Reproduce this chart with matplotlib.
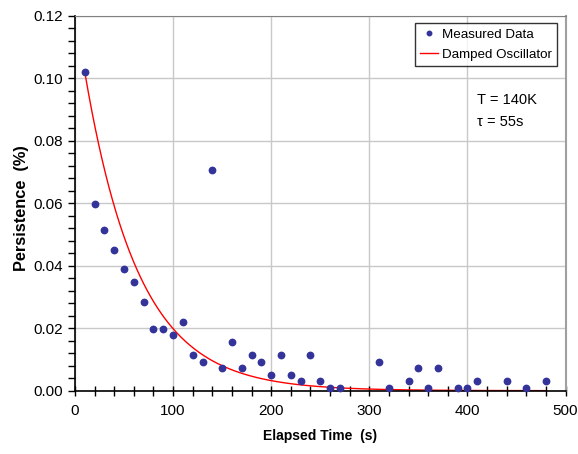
import numpy as np
import matplotlib
matplotlib.use("Agg")
import matplotlib.pyplot as plt
from matplotlib.ticker import MultipleLocator, FormatStrFormatter

plt.rcParams['font.family'] = ['Liberation Sans', 'DejaVu Sans']

# Measured data
time_s = [10, 20, 30, 40, 50, 60, 70, 80, 90, 100, 110, 120, 130, 140, 150,
          160, 170, 180, 190, 200, 210, 220, 230, 240, 250, 260, 270, 310,
          320, 340, 350, 360, 370, 390, 400, 410, 440, 460, 480]
persistence = [0.1022, 0.0599, 0.0515, 0.0451, 0.0389, 0.0347, 0.0283, 0.0199,
               0.0199, 0.0177, 0.0220, 0.0114, 0.0093, 0.0706, 0.0072,
               0.0156, 0.0072, 0.0114, 0.0093, 0.0050, 0.0114, 0.0050, 0.0030,
               0.0114, 0.0030, 0.0009, 0.0009, 0.0093,
               0.0009, 0.0030, 0.0072, 0.0009, 0.0072, 0.0009, 0.0009, 0.0030,
               0.0030, 0.0009, 0.0030]

# Model: damped decay, tau = 55 s
tau = 55.0
amp = 0.102
t_start, t_end = 10, 480

fig = plt.figure(figsize=(5.78, 4.54), dpi=100)
W, H = 578, 454
left, right, top, bottom = 75, 565.5, 16, 390.7
ax = fig.add_axes([left / W, 1 - bottom / H, (right - left) / W, (bottom - top) / H])

t_model = np.linspace(t_start, t_end, 400)
y_model = amp * np.exp(-(t_model - t_start) / tau)

ax.plot(time_s, persistence, 'o', color='#333399', markersize=4.6,
        label='Measured Data', zorder=3, clip_on=False)
ax.plot(t_model, y_model, '-', color='#ff0000', linewidth=1.0,
        label='Damped Oscillator', zorder=2)

ax.set_xlim(0, 500)
ax.set_ylim(0, 0.12)
ax.xaxis.set_major_locator(MultipleLocator(100))
ax.xaxis.set_minor_locator(MultipleLocator(20))
ax.yaxis.set_major_locator(MultipleLocator(0.02))
ax.yaxis.set_minor_locator(MultipleLocator(0.004))
ax.yaxis.set_major_formatter(FormatStrFormatter('%.2f'))

ax.grid(True, which='major', color='#c8c8c8', linewidth=1.0)
ax.set_axisbelow(True)

ax.tick_params(axis='x', which='major', direction='inout', length=7, width=1,
               labelsize=11, pad=6)
ax.tick_params(axis='x', which='minor', direction='inout', length=7, width=1)
ax.tick_params(axis='y', which='major', direction='out', length=5, width=1,
               labelsize=11, pad=4)
ax.tick_params(axis='y', which='minor', direction='out', length=5, width=1)

for s in ['left', 'bottom']:
    ax.spines[s].set_color('black')
    ax.spines[s].set_linewidth(1.2)
ax.spines['top'].set_color('#808080')
ax.spines['top'].set_linewidth(0.8)
ax.spines['right'].set_color('#a0a0a0')
ax.spines['right'].set_linewidth(1.5)

ax.set_xlabel('Elapsed Time  (s)', fontsize=10, fontweight='bold', labelpad=8)
ax.set_ylabel('Persistence  (%)', fontsize=11.8, fontweight='bold')
ax.yaxis.set_label_coords((29 - left) / (right - left),
                          (bottom - 208.5) / (bottom - top))

leg = ax.legend(loc='upper right', bbox_to_anchor=(557 / W, 1 - 23 / H),
                bbox_transform=fig.transFigure, frameon=True, fancybox=False,
                edgecolor='black', fontsize=9.6, handlelength=1.3,
                handletextpad=0.3, borderpad=0.4, labelspacing=0.6,
                borderaxespad=0, markerscale=0.7)
leg.get_frame().set_linewidth(1.0)

fig.text(477 / W, 1 - 100 / H, 'T = 140K', fontsize=10.5, va='center', ha='left')
fig.text(477 / W, 1 - 122 / H, 'τ = 55s', fontsize=10.5, va='center', ha='left')

fig.savefig('out.png', dpi=100)
